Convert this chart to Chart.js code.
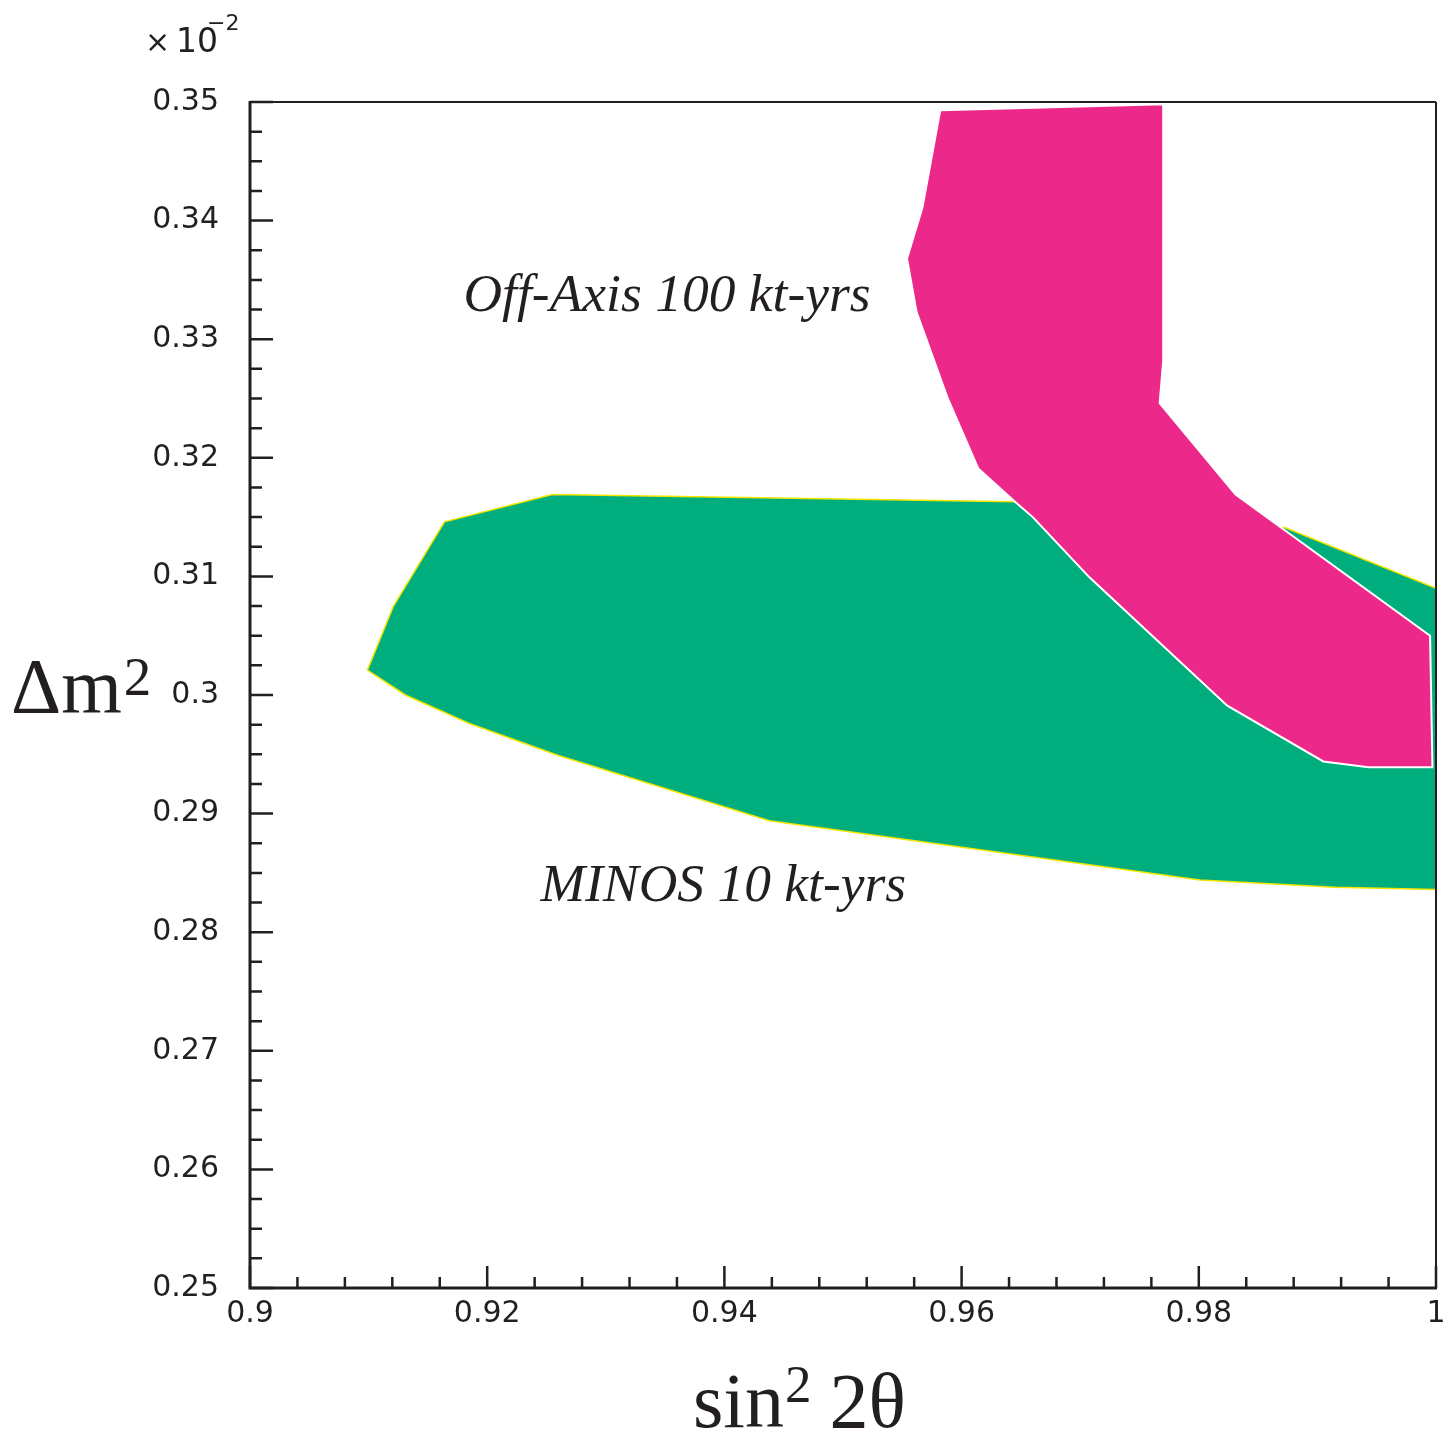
<!DOCTYPE html>
<html><head><meta charset="utf-8">
<script src="https://cdn.jsdelivr.net/npm/chart.js@4/dist/chart.umd.min.js"></script>
<style>html,body{margin:0;padding:0;background:#fff;}canvas{display:block;}</style>
</head><body>
<canvas id="c" width="1454" height="1431"></canvas>
<script>
// ---- data ----
const xTickValues = [0.9, 0.92, 0.94, 0.96, 0.98, 1.0];
const xTickLabels = ['0.9', '0.92', '0.94', '0.96', '0.98', '1'];
const yTickValues = [0.25, 0.26, 0.27, 0.28, 0.29, 0.30, 0.31, 0.32, 0.33, 0.34, 0.35];
const yTickLabels = ['0.25', '0.26', '0.27', '0.28', '0.29', '0.3', '0.31', '0.32', '0.33', '0.34', '0.35'];

// Off-Axis 100 kt-yrs contour (sin^2 2theta, dm^2 x 1e-2)
const offAxisX = [0.9582, 0.9567, 0.9554, 0.9562, 0.9588, 0.9614, 0.9645, 0.9660, 0.9708, 0.9824, 0.9905, 0.9943, 0.9997, 0.9995, 0.9831, 0.9767, 0.9770, 0.9770];
const offAxisY = [0.3493, 0.3411, 0.3368, 0.3323, 0.3251, 0.3191, 0.3163, 0.3150, 0.3099, 0.2991, 0.2944, 0.2939, 0.2939, 0.3050, 0.3169, 0.3246, 0.3282, 0.3498];

// MINOS 10 kt-yrs contour
const minosX = [0.9099, 0.9121, 0.9164, 0.9255, 0.9645, 0.9873, 1.0000, 1.0000, 0.9915, 0.9801, 0.9438, 0.9260, 0.9185, 0.9131];
const minosY = [0.3021, 0.3075, 0.3146, 0.3169, 0.3163, 0.3141, 0.3090, 0.2836, 0.2838, 0.2844, 0.2894, 0.2949, 0.2976, 0.3000];

const labelTexts = ['Off-Axis 100 kt-yrs', 'MINOS 10 kt-yrs'];
const labelX = [0.9180, 0.9245];
const labelY = [0.3336, 0.2838];

function closedPoly(xs, ys) {
  const pts = xs.map((x, i) => ({x: x, y: ys[i]}));
  pts.push({x: xs[0], y: ys[0]});
  return pts;
}

const INK = '#231f20';

const framePlugin = {
  id: 'frame',
  afterDraw(chart) {
    const ctx = chart.ctx;
    const xs = chart.scales.x, ys = chart.scales.y;
    const a = chart.chartArea;
    ctx.save();
    ctx.strokeStyle = INK;
    ctx.lineCap = 'butt';
    // frame
    ctx.lineWidth = 2;
    ctx.beginPath();
    ctx.moveTo(a.left, a.top); ctx.lineTo(a.right, a.top);
    ctx.moveTo(a.right, a.top); ctx.lineTo(a.right, a.bottom);
    ctx.stroke();
    ctx.lineWidth = 3;
    ctx.beginPath();
    ctx.moveTo(a.left, a.top - 1); ctx.lineTo(a.left, a.bottom);
    ctx.lineTo(a.right + 1, a.bottom);
    ctx.stroke();
    // inward ticks
    ctx.lineWidth = 2.5;
    ctx.beginPath();
    for (let i = 0; i <= 25; i++) {
      const v = 0.9 + i * 0.004;
      const px = xs.getPixelForValue(v);
      const len = (i % 5 === 0) ? 22 : 11;
      ctx.moveTo(px, a.bottom); ctx.lineTo(px, a.bottom - len);
    }
    for (let i = 0; i <= 40; i++) {
      const v = 0.25 + i * 0.0025;
      const py = ys.getPixelForValue(v);
      const len = (i % 4 === 0) ? 23 : 12;
      ctx.moveTo(a.left, py); ctx.lineTo(a.left + len, py);
    }
    ctx.stroke();

    // contour labels
    ctx.fillStyle = INK;
    ctx.font = 'italic 53.5px "Liberation Serif"';
    ctx.textAlign = 'left';
    ctx.textBaseline = 'middle';
    labelTexts.forEach((t, i) => {
      ctx.fillText(t, xs.getPixelForValue(labelX[i]), ys.getPixelForValue(labelY[i]));
    });

    // axis titles
    ctx.textBaseline = 'alphabetic';
    ctx.font = '78px "Liberation Serif"';
    ctx.fillText('\u0394m', 11, 712);
    let w = ctx.measureText('\u0394m').width;
    ctx.font = '55px "Liberation Serif"';
    ctx.fillText('2', 11 + w + 2, 695);

    ctx.font = '78px "Liberation Serif"';
    ctx.fillText('sin', 693, 1427);
    w = ctx.measureText('sin').width;
    ctx.font = '53px "Liberation Serif"';
    ctx.fillText('2', 693 + w + 1, 1402);
    const w2 = ctx.measureText('2').width;
    ctx.font = '78px "Liberation Serif"';
    ctx.fillText('2\u03b8', 693 + w + w2 + 19, 1427);

    // exponent
    ctx.font = '30px "DejaVu Sans"';
    ctx.fillText('\u00d7', 145, 52);
    ctx.font = '33px "DejaVu Sans"';
    ctx.fillText('10', 176, 52);
    ctx.font = '22px "DejaVu Sans"';
    ctx.fillText('\u22122', 207, 30);
    ctx.restore();
  }
};

const tickFont = {family: '"DejaVu Sans"', size: 30};

new Chart(document.getElementById('c'), {
  type: 'line',
  data: {
    datasets: [
      {
        label: 'Off-Axis 100 kt-yrs',
        data: closedPoly(offAxisX, offAxisY),
        backgroundColor: '#ec298b',
        borderColor: '#ffffff',
        borderWidth: 2,
        fill: 'shape',
        pointRadius: 0,
        tension: 0,
        order: 1
      },
      {
        label: 'MINOS 10 kt-yrs',
        data: closedPoly(minosX, minosY),
        backgroundColor: '#00ad7d',
        borderColor: '#f2e600',
        borderWidth: 1.5,
        fill: 'shape',
        pointRadius: 0,
        tension: 0,
        order: 2
      }
    ]
  },
  options: {
    responsive: false,
    animation: false,
    events: [],
    layout: {padding: {top: 102, right: 18, left: 0, bottom: 0}},
    plugins: {legend: {display: false}, tooltip: {enabled: false}},
    scales: {
      x: {
        type: 'linear', min: 0.9, max: 1.0,
        grid: {display: false, drawTicks: false},
        border: {display: false},
        afterBuildTicks: s => { s.ticks = xTickValues.map(v => ({value: v})); },
        afterFit: s => { s.height = 143; s.paddingLeft = 0; s.paddingRight = 0; },
        ticks: {
          color: INK, font: tickFont, padding: 8, maxRotation: 0, autoSkip: false,
          callback: (v, i) => xTickLabels[i]
        }
      },
      y: {
        type: 'linear', min: 0.25, max: 0.35,
        grid: {display: false, drawTicks: false},
        border: {display: false},
        afterBuildTicks: s => { s.ticks = yTickValues.map(v => ({value: v})); },
        afterFit: s => { s.width = 250; s.paddingTop = 0; s.paddingBottom = 0; },
        ticks: {
          color: INK, font: tickFont, padding: 31, autoSkip: false,
          callback: (v, i) => yTickLabels[i]
        }
      }
    }
  },
  plugins: [framePlugin]
});
</script>
</body></html>
